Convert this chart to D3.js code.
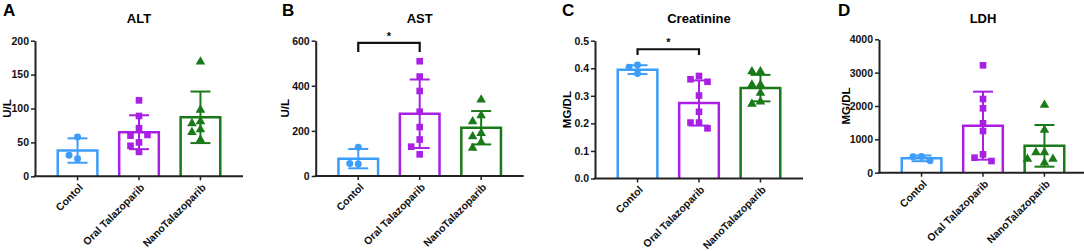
<!DOCTYPE html>
<html>
<head>
<meta charset="utf-8">
<script src="https://cdn.jsdelivr.net/npm/d3@7"></script>
<style>
  body { margin: 0; background: #fff; }
  svg { display: block; font-family: "Liberation Sans", Arial, sans-serif; font-weight: bold; }
</style>
</head>
<body>
<div id="chart"></div>
<script>
// groups on the x axis (same for every panel)
const groups = ["Contol", "Oral Talazoparib", "NanoTalazoparib"];
const colors = ["#3c9dfa", "#a91fe3", "#1a7a1a"];

// ALT (U/L)
const altControl = [58, 26, 31];
const altOral = [112, 89, 71, 60, 61, 50, 45, 36];
const altNano = [169, 98, 81, 78, 69, 65, 54];
const altMean = [38, 65, 87];
const altSD = [18, 25, 38];
const altTicks = [0, 50, 100, 150, 200];

// AST (U/L)
const astControl = [128, 53, 55];
const astOral = [509, 441, 377, 285, 217, 162, 130, 96];
const astNano = [338, 268, 242, 190, 175, 150, 124];
const astMean = [77, 276, 214];
const astSD = [43, 152, 74];
const astTicks = [0, 200, 400, 600];
const astBracket = [550, 590];

// Creatinine (MG/DL)
const creControl = [0.412, 0.404, 0.381];
const creOral = [0.372, 0.360, 0.351, 0.301, 0.242, 0.203, 0.203, 0.182];
const creNano = [0.388, 0.388, 0.340, 0.340, 0.310, 0.279, 0.270];
const creMean = [0.395, 0.274, 0.328];
const creSD = [0.016, 0.082, 0.048];
const creTicks = [0, 0.1, 0.2, 0.3, 0.4, 0.5];
const creBracket = [0.448, 0.469];

// LDH (MG/DL)
const ldhControl = [490, 480, 360];
const ldhOral = [3220, 2210, 1930, 1480, 1250, 550, 450, 350];
const ldhNano = [2030, 1280, 610, 610, 410, 410, 300];
const ldhMean = [430, 1410, 805];
const ldhSD = [85, 1020, 625];
const ldhTicks = [0, 1000, 2000, 3000, 4000];

// panel layout
const panels = [
  {letter: "A", title: "ALT", ylab: "U/L", lx: 3, x0: 35, top: 40.7, bottom: 176.3, ylabOff: 28,
   points: [altControl, altOral, altNano], mean: altMean, sd: altSD, ticks: altTicks, fmt: d3.format("d"), bracket: null},
  {letter: "B", title: "AST", ylab: "U/L", lx: 282, x0: 315.7, top: 40.7, bottom: 176, ylabOff: 31,
   points: [astControl, astOral, astNano], mean: astMean, sd: astSD, ticks: astTicks, fmt: d3.format("d"), bracket: astBracket},
  {letter: "C", title: "Creatinine", ylab: "MG/DL", lx: 562, x0: 595, top: 40.7, bottom: 178.5, ylabOff: 28,
   points: [creControl, creOral, creNano], mean: creMean, sd: creSD, ticks: creTicks, fmt: d3.format(".1f"), bracket: creBracket},
  {letter: "D", title: "LDH", ylab: "MG/DL", lx: 838, x0: 879, top: 39.3, bottom: 172.7, ylabOff: 33,
   points: [ldhControl, ldhOral, ldhNano], mean: ldhMean, sd: ldhSD, ticks: ldhTicks, fmt: d3.format("d"), bracket: null}
];

const W = 1084, H = 251;
const svg = d3.select("#chart").append("svg")
  .attr("width", W)
  .attr("height", H);

const axisColor = "#222";
const symbols = [d3.symbolCircle, d3.symbolSquare, d3.symbolTriangle];
const symSizes = [38, 44, 40];

panels.forEach(p => {
  const g = svg.append("g");
  const plotW = 208;

  const x = d3.scaleBand()
    .domain(groups)
    .range([p.x0, p.x0 + plotW])
    .paddingInner(0.355)
    .paddingOuter(0.37);

  const y = d3.scaleLinear()
    .domain([p.ticks[0], p.ticks[p.ticks.length - 1]])
    .range([p.bottom, p.top]);

  // panel letter and title
  g.append("text")
    .attr("x", p.lx)
    .attr("y", 16)
    .style("font-size", "17px")
    .text(p.letter);

  g.append("text")
    .attr("x", p.x0 + plotW / 2)
    .attr("y", 22.5)
    .attr("text-anchor", "middle")
    .style("font-size", "13px")
    .text(p.title);

  // bars (open at the bottom)
  groups.forEach((grp, i) => {
    const xl = x(grp), xr = x(grp) + x.bandwidth();
    const yt = y(p.mean[i]), yb = y(0);
    g.append("path")
      .attr("d", `M${xl},${yb}V${yt}H${xr}V${yb}`)
      .attr("fill", "none")
      .attr("stroke", colors[i])
      .attr("stroke-width", 2.5);
  });

  // error bars (mean +/- SD)
  groups.forEach((grp, i) => {
    const cx = x(grp) + x.bandwidth() / 2;
    const hi = y(p.mean[i] + p.sd[i]);
    const lo = y(Math.max(0, p.mean[i] - p.sd[i]));
    const eg = g.append("g").attr("stroke", colors[i]).attr("stroke-width", 2);
    eg.append("line").attr("x1", cx).attr("x2", cx).attr("y1", hi).attr("y2", lo);
    eg.append("line").attr("x1", cx - 10).attr("x2", cx + 10).attr("y1", hi).attr("y2", hi);
    eg.append("line").attr("x1", cx - 10).attr("x2", cx + 10).attr("y1", lo).attr("y2", lo);
  });

  // scatter points, spread sideways when they would overlap
  groups.forEach((grp, i) => {
    const cx = x(grp) + x.bandwidth() / 2;
    const placed = [];
    const offsets = [0, -8.5, 8.5, -17, 17];
    p.points[i].forEach(v => {
      const py = y(v);
      let off = 0;
      for (const o of offsets) {
        const clash = placed.some(q => Math.abs(q.x - o) < 7.5 && Math.abs(q.y - py) < 7.5);
        if (!clash) { off = o; break; }
      }
      placed.push({x: off, y: py});
      g.append("path")
        .attr("d", d3.symbol().type(symbols[i]).size(symSizes[i])())
        .attr("transform", `translate(${cx + off},${py})`)
        .attr("fill", colors[i]);
    });
  });

  // significance bracket
  if (p.bracket) {
    const c0 = x(groups[0]) + x.bandwidth() / 2;
    const c1 = x(groups[1]) + x.bandwidth() / 2;
    const yl = y(p.bracket[0]), yt = y(p.bracket[1]);
    g.append("path")
      .attr("d", `M${c0},${yl}V${yt}H${c1}V${yl}`)
      .attr("fill", "none")
      .attr("stroke", "#111")
      .attr("stroke-width", 2.2);
    g.append("text")
      .attr("x", (c0 + c1) / 2)
      .attr("y", yt - 3)
      .attr("text-anchor", "middle")
      .style("font-size", "11px")
      .text("*");
  }

  // y axis
  const ya = g.append("g")
    .attr("transform", `translate(${p.x0},0)`)
    .call(d3.axisLeft(y).tickValues(p.ticks).tickFormat(p.fmt).tickSize(4).tickSizeOuter(0).tickPadding(2));
  ya.select(".domain").attr("stroke", axisColor).attr("stroke-width", 2);
  ya.selectAll(".tick line").attr("stroke", axisColor).attr("stroke-width", 1.5);
  ya.selectAll("text")
    .attr("fill", "#111")
    .style("font-size", "10.5px")
    .style("font-weight", "bold")
    .style("font-family", "'Liberation Sans', Arial, sans-serif");

  // y label
  g.append("text")
    .attr("transform", `translate(${p.x0 - p.ylabOff},${(p.top + p.bottom) / 2}) rotate(-90)`)
    .attr("text-anchor", "middle")
    .attr("dy", "0.35em")
    .style("font-size", "11.5px")
    .text(p.ylab);

  // x axis
  const xa = g.append("g")
    .attr("transform", `translate(0,${p.bottom})`)
    .call(d3.axisBottom(x).tickSize(4).tickSizeOuter(0));
  xa.select(".domain").remove();
  xa.append("line")
    .attr("x1", p.x0 - 1)
    .attr("x2", p.x0 + plotW)
    .attr("stroke", axisColor)
    .attr("stroke-width", 2);
  xa.selectAll(".tick line").attr("stroke", axisColor).attr("stroke-width", 1.5);
  xa.selectAll("text")
    .attr("x", 0)
    .attr("y", 0)
    .attr("dy", 0)
    .attr("transform", "translate(6,12) rotate(-45)")
    .style("text-anchor", "end")
    .attr("fill", "#111")
    .style("font-size", "10.5px")
    .style("font-weight", "bold")
    .style("font-family", "'Liberation Sans', Arial, sans-serif");
});
</script>
</body>
</html>
